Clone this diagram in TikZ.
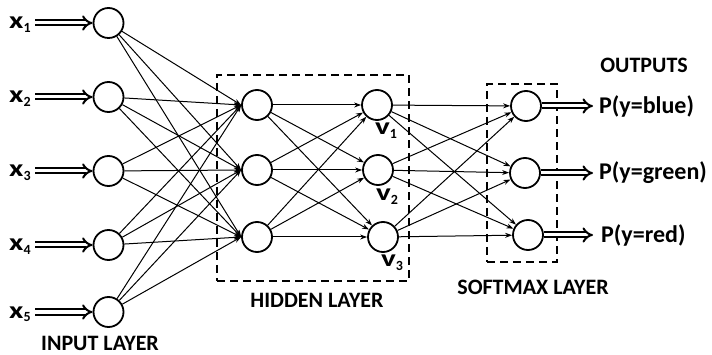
\documentclass[tikz,border=0pt]{standalone}
\usepackage{fontspec}
\setmainfont{Carlito}
\usetikzlibrary{arrows.meta}
\begin{document}
\begin{tikzpicture}[x=1pt,y=-1pt,
  neuron/.style={circle,draw,line width=1.8pt,minimum size=30pt,inner sep=0pt},
  conn/.style={line width=1pt,-{Stealth[length=7pt,width=5pt]}},
  dbl/.style={double,double distance=3pt,line width=2pt,-{Implies[length=10pt,width=15pt]}},
  layerbox/.style={draw,line width=1.8pt,dash pattern=on 8pt off 5pt},
  lbl/.style={font=\fontsize{22}{24}\selectfont\bfseries,inner sep=0pt},
  plbl/.style={font=\fontsize{24}{26}\selectfont\bfseries,inner sep=0pt,anchor=west},
  xlbl/.style={font=\fontsize{24}{26}\selectfont\bfseries,inner sep=0pt,anchor=base west}
]
\useasboundingbox (0,0) rectangle (712,355);
\newcommand{\mysub}[1]{\raisebox{-4pt}{\fontsize{14}{15}\selectfont #1}}
\newcommand{\wide}[1]{\scalebox{1.3}[1]{#1}}
% input neurons
\node[neuron] (i1) at (108.5,23) {};
\node[neuron] (i2) at (108.5,97) {};
\node[neuron] (i3) at (108.5,171) {};
\node[neuron] (i4) at (108.5,245) {};
\node[neuron] (i5) at (108.5,312) {};
% hidden
\node[neuron] (h1) at (257,105) {};
\node[neuron] (h2) at (257,170) {};
\node[neuron] (h3) at (257,237) {};
\node[neuron] (v1) at (377,105) {};
\node[neuron] (v2) at (378,170) {};
\node[neuron] (v3) at (383,237) {};
% softmax
\node[neuron] (s1) at (526,106) {};
\node[neuron] (s2) at (525,173) {};
\node[neuron] (s3) at (528,235) {};
% boxes
\node[layerbox,minimum width=192pt,minimum height=206pt,inner sep=0pt] (hbox) at (313,178) {};
\node[layerbox,minimum width=70pt,minimum height=178pt,inner sep=0pt] (sbox) at (522,173) {};
% input labels and arrows
\foreach \k/\y in {1/23,2/97,3/171,4/245,5/312}{
  \node[xlbl] (xl\k) at (9,\y+6) {\wide{x}\mysub{\k}};
  \coordinate (xa\k) at (35,\y);
  \draw[dbl] (xa\k) -- (i\k);
}
% connections
\foreach \a in {1,...,5}{\foreach \b in {1,2,3}{\draw[conn] (i\a) -- (h\b.west);}}
\foreach \a in {1,2,3}{\foreach \b in {1,2,3}{\draw[conn] (h\a) -- (v\b);}}
\foreach \a in {1,2,3}{\foreach \b in {1,2,3}{\draw[conn] (v\a) -- (s\b);}}
% v labels
\node[xlbl] (vl1) at (375,135) {\wide{v}\mysub{1}};
\node[xlbl] (vl2) at (376,201) {\wide{v}\mysub{2}};
\node[xlbl] (vl3) at (381,267) {\wide{v}\mysub{3}};
% outputs
\coordinate (o1) at (593,106);
\coordinate (o2) at (593,173);
\coordinate (o3) at (593,235);
\draw[dbl] (s1) -- (o1);
\draw[dbl] (s2) -- (o2);
\draw[dbl] (s3) -- (o3);
\node[plbl] (p1) at (599,106) {P(y=blue)};
\node[plbl] (p2) at (599,173) {P(y=green)};
\node[plbl] (p3) at (601,235) {P(y=red)};
% layer labels
\node[lbl] (outl) at (644,65) {OUTPUTS};
\node[lbl] (hidl) at (317,300) {HIDDEN LAYER};
\node[lbl] (softl) at (533,287) {SOFTMAX LAYER};
\node[lbl] (inl) at (100,343) {INPUT LAYER};
\end{tikzpicture}
\end{document}
